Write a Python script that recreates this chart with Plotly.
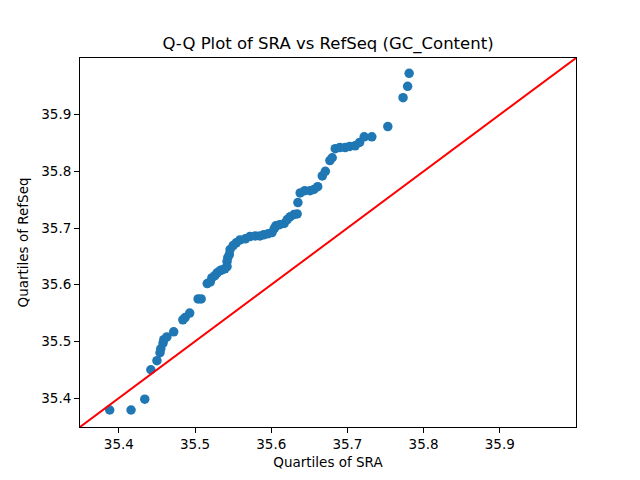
import plotly.graph_objects as go

# Sorted quantiles
sra_quantiles = [
    35.388, 35.416, 35.434, 35.442, 35.450, 35.454, 35.455, 35.458, 35.459, 35.463,
    35.472, 35.484, 35.487, 35.493, 35.504, 35.508, 35.516, 35.520, 35.522, 35.526,
    35.529, 35.533, 35.535, 35.539, 35.542, 35.542, 35.543, 35.545, 35.546, 35.550,
    35.554, 35.559, 35.566, 35.572, 35.579, 35.585, 35.590, 35.596, 35.601, 35.604,
    35.606, 35.611, 35.617, 35.621, 35.625, 35.630, 35.634, 35.635, 35.638, 35.644,
    35.651, 35.656, 35.661, 35.667, 35.671, 35.677, 35.680, 35.684, 35.690, 35.697,
    35.703, 35.710, 35.716, 35.722, 35.732, 35.753, 35.773, 35.779, 35.781,
]
refseq_quantiles = [
    35.379, 35.379, 35.398, 35.450, 35.466, 35.480, 35.487, 35.497, 35.503, 35.508,
    35.517, 35.538, 35.542, 35.550, 35.575, 35.575, 35.602, 35.605, 35.612, 35.616,
    35.621, 35.625, 35.626, 35.628, 35.632, 35.641, 35.648, 35.653, 35.662, 35.669,
    35.674, 35.679, 35.681, 35.685, 35.686, 35.686, 35.688, 35.690, 35.692, 35.699,
    35.704, 35.706, 35.708, 35.715, 35.720, 35.724, 35.725, 35.745, 35.762, 35.766,
    35.766, 35.768, 35.773, 35.792, 35.800, 35.819, 35.824, 35.840, 35.842, 35.842,
    35.844, 35.845, 35.851, 35.861, 35.861, 35.879, 35.930, 35.950, 35.973,
]

axis_limits = [35.349, 36.0]
tick_values = [35.4, 35.5, 35.6, 35.7, 35.8, 35.9]
tick_labels = ["35.4", "35.5", "35.6", "35.7", "35.8", "35.9"]

FONT = "DejaVu Sans, Verdana, sans-serif"

fig = go.Figure()
fig.add_trace(go.Scatter(
    x=sra_quantiles, y=refseq_quantiles, mode="markers",
    marker=dict(color="#1f77b4", size=9.5, line=dict(width=0)),
    showlegend=False, hoverinfo="x+y",
))
fig.add_trace(go.Scatter(
    x=axis_limits, y=axis_limits, mode="lines",
    line=dict(color="red", width=2),
    showlegend=False, hoverinfo="skip",
))

axis_common = dict(
    range=axis_limits, showgrid=False, zeroline=False,
    showline=True, linecolor="black", linewidth=1, mirror=True,
    ticks="outside", ticklen=5, tickwidth=1, tickcolor="black",
    tickvals=tick_values, ticktext=tick_labels,
    tickfont=dict(family=FONT, size=13.5, color="black"),
)

fig.update_layout(
    width=640, height=480,
    margin=dict(l=80, r=64, t=58, b=53),
    paper_bgcolor="white", plot_bgcolor="white",
    title=dict(text="Q-Q Plot of SRA vs RefSeq (GC_Content)",
               font=dict(family=FONT, size=16.5, color="black"),
               x=0.5, xref="paper", xanchor="center",
               y=1 - 43 / 480, yref="container", yanchor="middle"),
    xaxis=dict(**axis_common,
               title=dict(text="Quartiles of SRA", standoff=6,
                          font=dict(family=FONT, size=13.5, color="black"))),
    yaxis=dict(**axis_common,
               title=dict(text="Quartiles of RefSeq", standoff=9,
                          font=dict(family=FONT, size=13.5, color="black"))),
)

fig.write_html("out.html")
